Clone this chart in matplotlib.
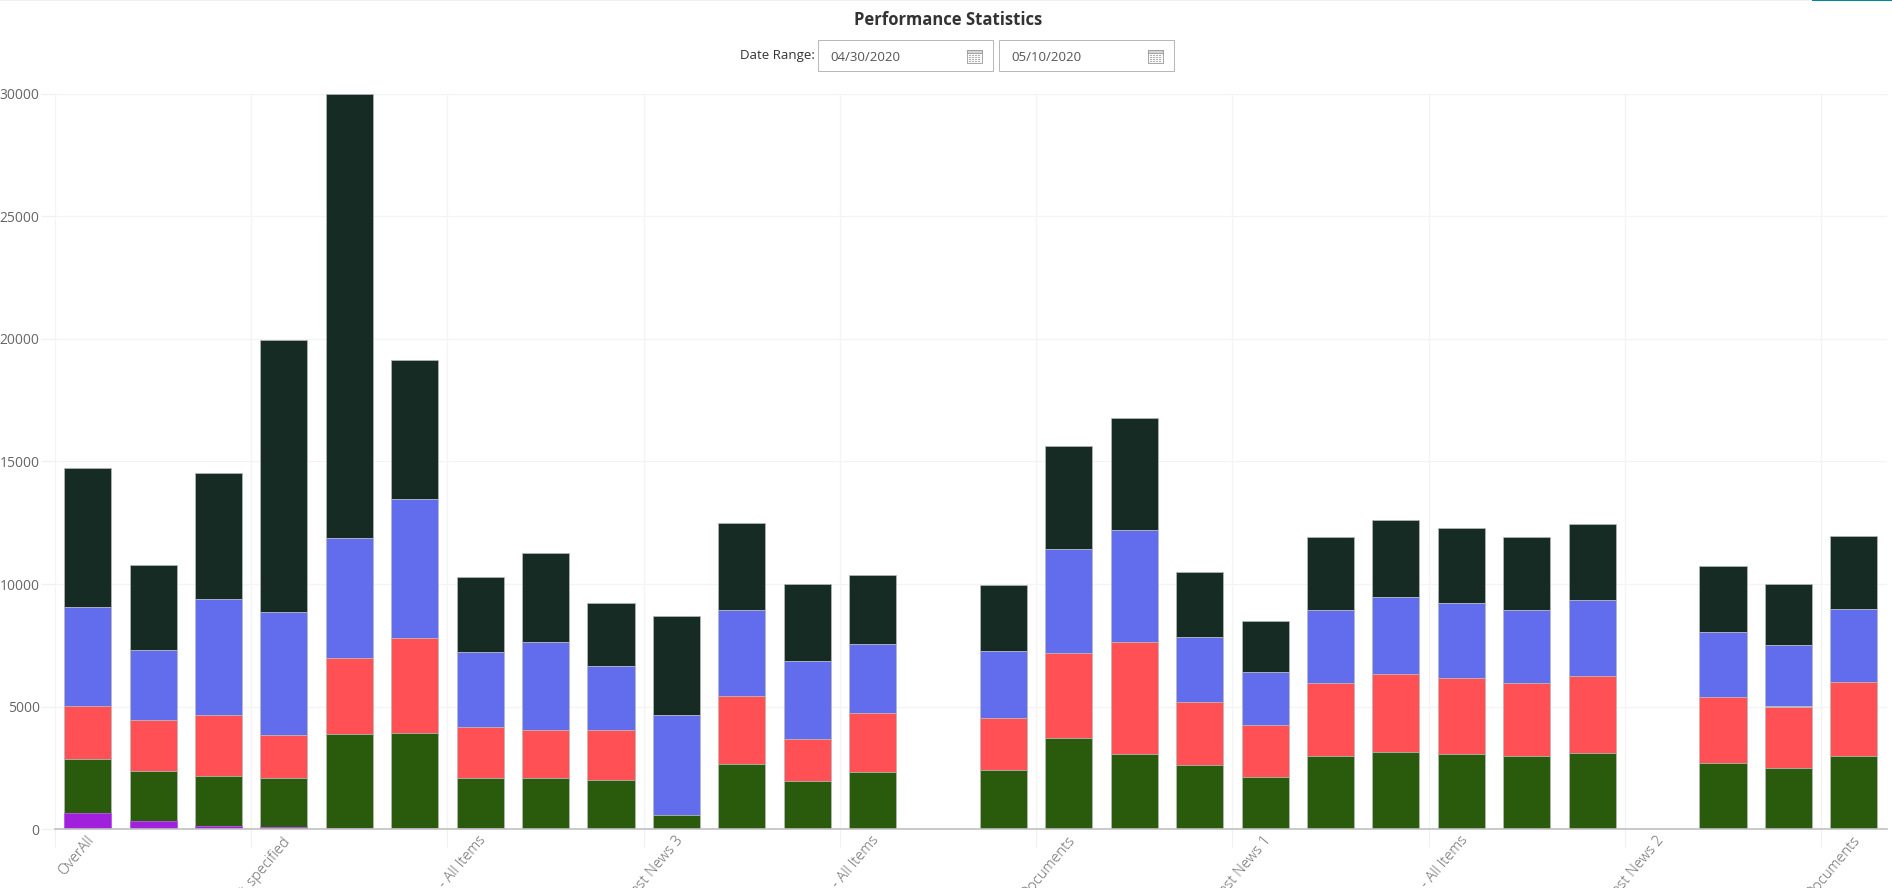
import matplotlib
matplotlib.use('Agg')
from matplotlib import pyplot as plt
from matplotlib.patches import Rectangle
from matplotlib.transforms import ScaledTranslation
import numpy as np

W, H = 1892, 888

# category labels, only every third one is shown (the rest run off the page)
categories = ['OverAll', 'Not_specified', '- All Items', 'Latest News 3', '- All Items',
              'Documents', 'Latest News 1', '- All Items', 'Latest News 2', 'Documents']

purple = [640, 330, 130, 80, 60, 40, 40, 20, 10, 0, 0, 0, 0, 0,
          0, 0, 0, 0, 0, 0, 0, 0, 0, 0, 0, 0, 0, 0]
green = [2230, 2050, 2050, 2020, 3800, 3860, 2030, 2080, 2010, 580, 2670, 1960, 2330, 0,
         2420, 3730, 3050, 2620, 2130, 2980, 3160, 3080, 2990, 3120, 0, 2690, 2500, 2990]
red = [2130, 2050, 2460, 1730, 3120, 3880, 2080, 1930, 2030, 0, 2750, 1710, 2400, 0,
       2110, 3450, 4570, 2560, 2120, 2970, 3160, 3090, 2980, 3120, 0, 2690, 2500, 2990]
blue = [4050, 2870, 4760, 5020, 4890, 5670, 3080, 3620, 2600, 4060, 3530, 3200, 2810, 0,
        2730, 4250, 4580, 2650, 2150, 3000, 3160, 3060, 2980, 3100, 0, 2680, 2500, 2990]
dark = [5700, 3480, 5120, 11090, 18130, 5700, 3070, 3630, 2580, 4060, 3520, 3150, 2840, 0,
        2710, 4220, 4580, 2670, 2100, 2980, 3150, 3070, 2970, 3110, 0, 2690, 2500, 2990]

series = [purple, green, red, blue, dark]
colors = ['#a020dc', '#2a5a0c', '#ff5055', '#626dee', '#152b23']
edges = ['#a850dc', '#b8b8b8', '#b8b8b8', '#b8b8b8', '#b8b8b8']

yticks = [0, 5000, 10000, 15000, 20000, 25000, 30000]

plt.rcParams['font.family'] = ['Open Sans', 'DejaVu Sans']

fig = plt.figure(figsize=(W / 100, H / 100), dpi=100)
left, right, top, bottom = 55, 1886.5, 94, 829
ax = fig.add_axes([left / W, 1 - bottom / H, (right - left) / W, (bottom - top) / H])

x = np.arange(len(purple))
base = np.zeros(len(purple))
# lower segments are drawn on top so the thin purple strips stay visible
for i, (vals, col, ec) in enumerate(zip(series, colors, edges)):
    vals = np.array(vals)
    ax.bar(x, vals, 0.72, bottom=base, color=col, edgecolor=ec, linewidth=0.5, zorder=8 - i)
    base = base + vals

ax.set_xlim(-0.5, len(purple) - 0.5)
ax.set_ylim(0, 30000)

ax.set_yticks(yticks)
ax.set_xticks(np.arange(-0.5, len(purple), 3))
ax.set_xticklabels([])
ax.set_xticks(np.arange(0, len(purple), 3), minor=True)
ax.set_xticklabels(categories, minor=True, rotation=50, ha='right', va='top',
                   rotation_mode='anchor', fontsize=10.5, color='#666666', fontweight='light')
ax.tick_params(axis='x', which='major', length=13, width=0.8, color='#f0f0f0')
ax.tick_params(axis='x', which='minor', length=0, pad=3)
ax.tick_params(axis='y', length=10, width=1, color='#f0f0f0', pad=1, labelsize=10, labelcolor='#666666')

# labels end close to the bar centre
shift = ScaledTranslation(-2 / 100, 0, fig.dpi_scale_trans)
for lab in ax.get_xticklabels(minor=True):
    lab.set_transform(lab.get_transform() + shift)

ax.grid(True, which='major', color='#f4f4f4', linewidth=0.9, zorder=0)
ax.set_axisbelow(True)
for s in ['top', 'right', 'left']:
    ax.spines[s].set_visible(False)
ax.spines['bottom'].set_color('#c0c0c0')
ax.spines['bottom'].set_linewidth(1.2)
ax.spines['bottom'].set_zorder(9)


def box(x0, y0, x1, y1, **kw):
    fig.add_artist(Rectangle((x0 / W, 1 - y1 / H), (x1 - x0) / W, (y1 - y0) / H,
                             transform=fig.transFigure, **kw))


# strip at the very top of the page
box(0, 0, 1811, 1, facecolor='#f0f0f0', edgecolor='none')
box(1812, 0, W, 1.3, facecolor='#0085a8', edgecolor='none')

fig.text(948 / W, 1 - 20 / H, 'Performance Statistics', ha='center', va='center',
         fontsize=12, fontweight='bold', color='#333333')
fig.text(815 / W, 1 - 55.5 / H, 'Date Range:', ha='right', va='center',
         fontsize=9.5, fontweight='medium', color='#333333')

for x0, date in [(817.5, '04/30/2020'), (998.5, '05/10/2020')]:
    box(x0, 40.5, x0 + 175, 71.5, facecolor='white', edgecolor='#b8b8b8', linewidth=0.72)
    fig.text((x0 + 13) / W, 1 - 57.5 / H, date, ha='left', va='center', fontsize=9.5,
             color='#555555')
    # calendar icon
    ix = x0 + 149.5
    box(ix, 50, ix + 15, 63, facecolor='#f8f8f8', edgecolor='#999999', linewidth=0.6)
    box(ix, 50, ix + 15, 53, facecolor='#d4d4d4', edgecolor='#999999', linewidth=0.6)
    for gx in range(2, 14, 3):
        for gy in range(55, 62, 2):
            box(ix + gx, gy, ix + gx + 1.5, gy + 1, facecolor='#b0b0b0', edgecolor='none')

fig.savefig('out.png', dpi=100)
